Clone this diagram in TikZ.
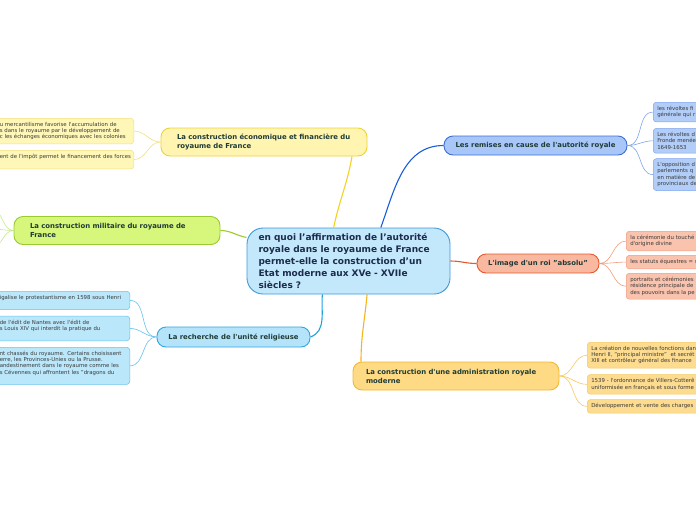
\documentclass[tikz,border=0pt]{standalone}
\usepackage{fontspec}
\setmainfont{DejaVu Sans}
\usetikzlibrary{positioning}

\definecolor{qfill}{HTML}{C4E8FB}
\definecolor{qline}{HTML}{3C9ADA}
\definecolor{qtext}{HTML}{1B2C4C}
\definecolor{btext}{HTML}{1F3B36}
\definecolor{ltext}{HTML}{3A3A3A}
\definecolor{efill}{HTML}{FFF5B0}
\definecolor{eline}{HTML}{EDD23A}
\definecolor{eleaf}{HTML}{FFF7B8}
\definecolor{eleafline}{HTML}{F3E17C}
\definecolor{elink}{HTML}{F2D31E}
\definecolor{afill}{HTML}{D6F67C}
\definecolor{aline}{HTML}{9BCB33}
\definecolor{alink}{HTML}{9CCB2F}
\definecolor{atwig}{HTML}{C9E78F}
\definecolor{ffill}{HTML}{B5E4FA}
\definecolor{fline}{HTML}{2DA7DF}
\definecolor{fleaf}{HTML}{BBE7FB}
\definecolor{fleafline}{HTML}{66C3ED}
\definecolor{flink}{HTML}{1FA1DE}
\definecolor{cfill}{HTML}{A8C7F8}
\definecolor{cline}{HTML}{3B6ED6}
\definecolor{cleaf}{HTML}{B1CDF8}
\definecolor{cleafline}{HTML}{7EA5EE}
\definecolor{clink}{HTML}{1B5DD5}
\definecolor{rfill}{HTML}{F9B9A1}
\definecolor{rline}{HTML}{E6582B}
\definecolor{rleaf}{HTML}{FAC3AE}
\definecolor{rleafline}{HTML}{F29C7E}
\definecolor{rlink}{HTML}{E8572A}
\definecolor{dfill}{HTML}{FDDA83}
\definecolor{dline}{HTML}{F3B833}
\definecolor{dleaf}{HTML}{FDDC8F}
\definecolor{dleafline}{HTML}{F7C860}
\definecolor{dlink}{HTML}{F5B41E}

\begin{document}
\begin{tikzpicture}[
  x=1pt, y=1pt,
  question/.style={
    rectangle,
    draw=qline,
    line width=0.9pt,
    rounded corners=16pt,
    fill=qfill,
    align=left,
    text width=180pt,
    inner xsep=11.5pt,
    minimum height=66pt,
    text=qtext,
    font=\fontsize{9}{12}\selectfont\bfseries
  },
  branch/.style={
    rectangle,
    line width=0.9pt,
    rounded corners=9pt,
    align=left,
    inner ysep=3pt,
    text=btext,
    font=\fontsize{6.9}{9}\selectfont\bfseries
  },
  widebranch/.style={branch, text width=174pt, inner xsep=16pt, minimum height=28pt},
  shortbranch/.style={branch, align=center, minimum height=19pt},
  leaf/.style={
    rectangle,
    line width=0.5pt,
    rounded corners=3pt,
    align=left,
    inner xsep=4pt,
    inner ysep=4pt,
    text=ltext,
    font=\fontsize{5.4}{6.2}\selectfont
  },
  leftleaf/.style={leaf, anchor=north east},
  rightleaf/.style={leaf, anchor=north west, text width=200pt},
  econbox/.style={widebranch, draw=eline, fill=efill},
  armybox/.style={widebranch, draw=aline, fill=afill},
  faithbox/.style={shortbranch, draw=fline, fill=ffill, minimum width=153pt, minimum height=20pt},
  crisisbox/.style={shortbranch, draw=cline, fill=cfill, minimum width=183pt},
  royalbox/.style={shortbranch, draw=rline, fill=rfill, minimum width=122pt},
  adminbox/.style={widebranch, draw=dline, fill=dfill, text width=180pt, inner xsep=13pt},
  econleaf/.style={leftleaf, draw=eleafline, fill=eleaf, text width=130pt},
  faithleaf/.style={leftleaf, draw=fleafline, fill=fleaf, text width=126pt},
  crisisleaf/.style={rightleaf, draw=cleafline, fill=cleaf},
  royalleaf/.style={rightleaf, draw=rleafline, fill=rleaf},
  adminleaf/.style={rightleaf, draw=dleafline, fill=dleaf},
  link/.style={line width=1.1pt},
  twig/.style={line width=0.6pt}
]
\useasboundingbox (0,0) rectangle (696,-520);
\clip (0,0) rectangle (696,-520);

\node[question] (quest) at (348.5,-261) {en quoi l’affirmation de l’autorité\\royale dans le royaume de France\\permet-elle la construction d’un\\Etat moderne aux XVe - XVIIe\\siècles ?};

\node[econbox] (econ) at (264,-142) {La construction économique et financière du royaume de France};
\node[armybox] (army) at (117,-230.5) {La construction militaire du royaume de France};
\node[faithbox] (faith) at (233.5,-337) {La recherche de l\textquotesingle unité religieuse};
\node[crisisbox] (crisis) at (535.5,-145.5) {Les remises en cause de l\textquotesingle autorité royale};
\node[royalbox] (royal) at (538,-263.5) {L\textquotesingle image d\textquotesingle un roi "absolu"};
\node[adminbox] (admin) at (456,-376) {La construction d\textquotesingle une administration royale moderne};

\node[econleaf] (e1) at (134,-118) {u mercantilisme favorise l\textquotesingle accumulation de\\s dans le royaume par le développement de\\c les échanges économiques avec les colonies};
\node[econleaf, below=6pt of e1.south east, anchor=north east] (e2) {\mbox{ent de l\textquotesingle impôt permet le financement des forces}\\\mbox{}};

\coordinate (m1) at (-8,-210);
\coordinate (m2) at (-8,-229);
\coordinate (m3) at (-8,-247);

\node[faithleaf] (r1) at (130,-291) {igalise le protestantisme en 1598 sous Henri\\\mbox{}};
\node[faithleaf, below=6pt of r1.south east, anchor=north east] (r2) {de l\textquotesingle édit de Nantes avec l\textquotesingle édit de\\s Louis XIV qui interdit la pratique du\\\mbox{}};
\node[faithleaf, below=6pt of r2.south east, anchor=north east] (r3) {nt chassés du royaume. Certains choisissent\\erre, les Provinces-Unies ou la Prusse.\\andestinement dans le royaume comme les\\s Cévennes qui affrontent les "dragons du\\\mbox{}};

\node[crisisleaf] (c1) at (653,-102) {les révoltes fi\\générale qui r};
\node[crisisleaf, below=6pt of c1.south west, anchor=north west] (c2) {Les révoltes d\\Fronde menée\\1649-1653};
\node[crisisleaf, below=5pt of c2.south west, anchor=north west] (c3) {L\textquotesingle opposition d\\parlements q\\en matière de\\provinciaux de};

\node[royalleaf] (o1) at (626,-231) {la cérémonie du touché\\d\textquotesingle origine divine};
\node[royalleaf, below=4pt of o1.south west, anchor=north west] (o2) {les statuts équestres = s};
\node[royalleaf, below=4pt of o2.south west, anchor=north west] (o3) {portraits et cérémonies\\résidence principale de\\des pouvoirs dans la pe};

\node[adminleaf] (a1) at (587,-342) {La création de nouvelles fonctions dan\\Henri II, "principal ministre"~ et secrét\\XIII et contrôleur général des finance};
\node[adminleaf, below=6pt of a1.south west, anchor=north west] (a2) {1539 - l\textquotesingle ordonnance de Villers-Cotterê\\uniformisée en français et sous forme};
\node[adminleaf, below=5pt of a2.south west, anchor=north west] (a3) {Développement et vente des charges};

\draw[link, draw=elink] (quest.114) to[out=78,in=-100] ([xshift=88pt]econ.south);
\draw[link, draw=alink] (army.east) to[out=0,in=170] (quest.167);
\draw[link, draw=flink] (quest.232) to[out=-95,in=20] (faith.east);
\draw[link, draw=clink] (quest.46) to[out=70,in=180] (crisis.west);
\draw[link, draw=rlink] (quest.east) to[out=0,in=180] (royal.west);
\draw[link, draw=dlink] (quest.299) to[out=-95,in=90] ([xshift=-95pt]admin.north);

\draw[twig, draw=eleafline] (econ.west) to[out=180,in=0] (e1.east);
\draw[twig, draw=eleafline] (econ.west) to[out=180,in=0] (e2.east);
\draw[twig, draw=atwig] (army.west) to[out=180,in=0] (m1);
\draw[twig, draw=atwig] (army.west) to[out=180,in=0] (m2);
\draw[twig, draw=atwig] (army.west) to[out=180,in=0] (m3);
\draw[twig, draw=fleafline] (faith.west) to[out=180,in=0] (r1.east);
\draw[twig, draw=fleafline] (faith.west) to[out=180,in=0] (r2.east);
\draw[twig, draw=fleafline] (faith.west) to[out=180,in=0] (r3.east);
\draw[twig, draw=cleafline] (crisis.east) to[out=0,in=180] (c1.west);
\draw[twig, draw=cleafline] (crisis.east) to[out=0,in=180] (c2.west);
\draw[twig, draw=cleafline] (crisis.east) to[out=0,in=180] (c3.west);
\draw[twig, draw=rleafline] (royal.east) to[out=0,in=180] (o1.west);
\draw[twig, draw=rleafline] (royal.east) to[out=0,in=180] (o2.west);
\draw[twig, draw=rleafline] (royal.east) to[out=0,in=180] (o3.west);
\draw[twig, draw=dleafline] (admin.east) to[out=0,in=180] (a1.west);
\draw[twig, draw=dleafline] (admin.east) to[out=0,in=180] (a2.west);
\draw[twig, draw=dleafline] (admin.east) to[out=0,in=180] (a3.west);

\end{tikzpicture}
\end{document}
